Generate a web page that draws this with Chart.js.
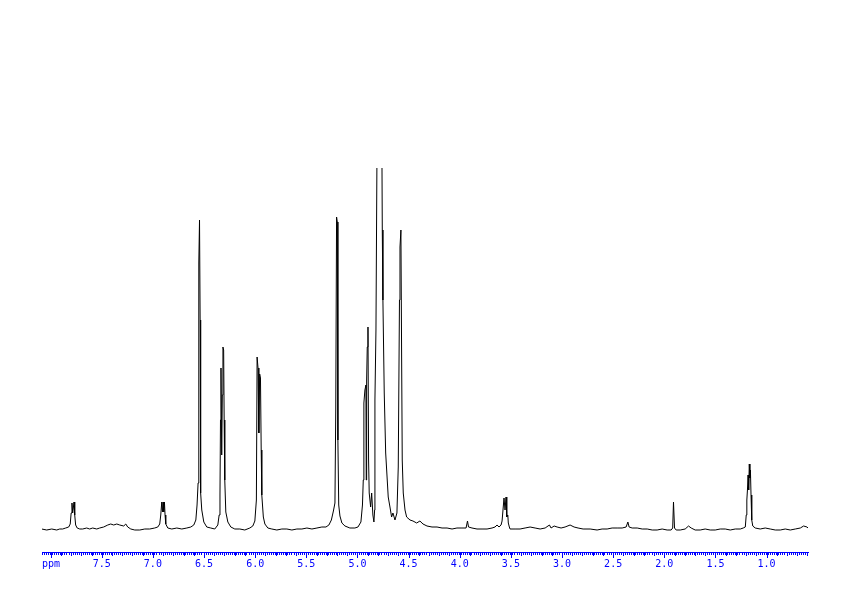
<!DOCTYPE html>
<html>
<head>
<meta charset="utf-8">
<title>1H NMR spectrum</title>
<script src="https://cdn.jsdelivr.net/npm/chart.js@4.4.1/dist/chart.umd.min.js"></script>
<style>
  html, body { margin: 0; padding: 0; background: #fff; }
  #wrap { width: 842px; height: 595px; }
</style>
</head>
<body>
<div id="wrap"><canvas id="spectrum" width="842" height="595"></canvas></div>
<script>
// chemical shift (ppm) of each traced point, left to right
const shiftPpm = [
  8.087, 8.038, 7.989, 7.940, 7.911, 7.882, 7.852, 7.823, 7.808, 7.799, 7.791, 7.784, 7.778, 7.771, 7.764, 7.755,
  7.740, 7.715, 7.686, 7.647, 7.618, 7.588, 7.549, 7.520, 7.481, 7.441, 7.412, 7.383, 7.353, 7.324, 7.285, 7.265,
  7.246, 7.216, 7.177, 7.128, 7.079, 7.031, 6.982, 6.952, 6.933, 6.923, 6.913, 6.906, 6.900, 6.894, 6.887, 6.881,
  6.874, 6.854, 6.815, 6.766, 6.717, 6.668, 6.629, 6.600, 6.580, 6.568, 6.558, 6.551, 6.544, 6.538, 6.533, 6.522,
  6.502, 6.473, 6.434, 6.395, 6.365, 6.352, 6.344, 6.339, 6.334, 6.327, 6.321, 6.315, 6.308, 6.303, 6.297, 6.287,
  6.267, 6.238, 6.199, 6.150, 6.101, 6.052, 6.023, 6.003, 5.988, 5.981, 5.972, 5.964, 5.956, 5.948, 5.941, 5.935,
  5.920, 5.905, 5.876, 5.837, 5.788, 5.739, 5.690, 5.641, 5.592, 5.543, 5.494, 5.445, 5.396, 5.348, 5.308, 5.279,
  5.255, 5.235, 5.220, 5.212, 5.204, 5.197, 5.191, 5.183, 5.171, 5.152, 5.122, 5.074, 5.025, 4.995, 4.966, 4.951,
  4.943, 4.937, 4.927, 4.917, 4.914, 4.910, 4.904, 4.897, 4.891, 4.885, 4.871, 4.861, 4.849, 4.839, 4.832, 4.829,
  4.819, 4.806, 4.785, 4.763, 4.757, 4.751, 4.738, 4.724, 4.699, 4.682, 4.666, 4.653, 4.633, 4.614, 4.601, 4.589,
  4.584, 4.575, 4.568, 4.562, 4.552, 4.535, 4.519, 4.486, 4.457, 4.421, 4.389, 4.359, 4.320, 4.271, 4.222, 4.173,
  4.124, 4.075, 4.027, 3.978, 3.938, 3.924, 3.914, 3.880, 3.831, 3.782, 3.733, 3.684, 3.655, 3.635, 3.616, 3.596,
  3.586, 3.567, 3.557, 3.547, 3.540, 3.530, 3.525, 3.515, 3.508, 3.459, 3.410, 3.361, 3.312, 3.263, 3.214, 3.165,
  3.123, 3.107, 3.077, 3.048, 3.009, 2.970, 2.921, 2.882, 2.843, 2.794, 2.725, 2.657, 2.608, 2.559, 2.510, 2.461,
  2.412, 2.373, 2.356, 2.344, 2.314, 2.265, 2.216, 2.167, 2.118, 2.070, 2.021, 1.972, 1.933, 1.918, 1.910, 1.900,
  1.884, 1.844, 1.796, 1.763, 1.737, 1.698, 1.649, 1.600, 1.551, 1.502, 1.453, 1.404, 1.355, 1.306, 1.257, 1.228,
  1.208, 1.199, 1.193, 1.187, 1.181, 1.175, 1.169, 1.163, 1.158, 1.152, 1.145, 1.135, 1.111, 1.062, 1.013, 0.964,
  0.915, 0.866, 0.817, 0.768, 0.719, 0.670, 0.638, 0.605, 0.595
];
// signal height at each point (arbitrary units, plot top = 384)
const intensity = [
  23, 22, 23, 22, 23, 23, 24, 25, 28, 39, 49, 39, 44, 50, 37, 27,
  24, 23, 23, 24, 23, 24, 23, 24, 25, 27, 28, 27, 28, 27, 26, 28,
  25, 23, 22, 22, 23, 23, 24, 25, 28, 37, 50, 40, 50, 40, 50, 37,
  28, 24, 23, 24, 23, 24, 25, 27, 32, 47, 69, 289, 332, 232, 59, 42,
  30, 25, 24, 23, 27, 37, 57, 132, 184, 97, 157, 205, 202, 132, 72, 40,
  30, 25, 23, 23, 22, 24, 26, 31, 52, 195, 184, 119, 178, 174, 102, 57,
  35, 28, 24, 23, 22, 23, 23, 22, 23, 23, 24, 23, 24, 25, 25, 27,
  32, 41, 49, 142, 335, 330, 112, 47, 36, 29, 26, 24, 24, 25, 30, 47,
  72, 149, 162, 167, 72, 172, 205, 225, 92, 59, 45, 59, 37, 30, 42, 152,
  222, 452, 412, 452, 322, 252, 159, 99, 55, 45, 35, 39, 32, 39, 85, 252,
  305, 322, 195, 92, 59, 42, 35, 32, 31, 29, 31, 28, 26, 25, 25, 24,
  24, 23, 24, 24, 24, 31, 25, 24, 23, 23, 23, 24, 25, 27, 25, 27,
  31, 54, 42, 55, 35, 37, 29, 25, 23, 23, 23, 24, 25, 24, 23, 24,
  27, 24, 26, 25, 24, 25, 27, 25, 24, 23, 23, 22, 23, 23, 24, 24,
  24, 25, 30, 25, 24, 24, 23, 23, 22, 22, 23, 22, 22, 24, 50, 24,
  22, 22, 23, 26, 24, 22, 22, 23, 22, 22, 23, 23, 22, 23, 23, 24,
  25, 37, 52, 62, 77, 62, 88, 74, 82, 57, 32, 26, 24, 23, 24, 23,
  22, 22, 23, 22, 23, 24, 26, 25, 24
];
// labelled ticks on the ppm axis
const axisLabels = [7.5, 7.0, 6.5, 6.0, 5.5, 5.0, 4.5, 4.0, 3.5, 3.0, 2.5, 2.0, 1.5, 1.0];
const PPM_LEFT = 8.084;
const PPM_RIGHT = 0.595;
const BLUE = "#0000ff";
const AXIS_FONT = { family: "DejaVu Sans Mono", size: 10 };

const points = shiftPpm.map((p, i) => ({ x: p, y: intensity[i] }));

// longer ticks every 0.1 / 0.5 ppm and the "ppm" caption
const axisDecor = {
  id: "axisDecor",
  afterDraw(chart) {
    const sx = chart.scales.x;
    const ctx = chart.ctx;
    const bottom = chart.chartArea.bottom;
    ctx.save();
    ctx.strokeStyle = BLUE;
    ctx.lineWidth = 1;
    for (let k = Math.ceil(PPM_RIGHT * 10); k <= Math.floor(PPM_LEFT * 10); k++) {
      const px = Math.round(sx.getPixelForValue(k / 10)) + 0.5;
      const len = k % 5 === 0 ? 6 : 4;
      ctx.beginPath();
      ctx.moveTo(px, bottom);
      ctx.lineTo(px, bottom + len);
      ctx.stroke();
    }
    ctx.fillStyle = BLUE;
    ctx.font = AXIS_FONT.size + "px " + AXIS_FONT.family;
    ctx.textAlign = "left";
    ctx.textBaseline = "middle";
    ctx.fillText("ppm", chart.chartArea.left, bottom + 12);
    ctx.restore();
  },
};

new Chart(document.getElementById("spectrum"), {
  type: "line",
  data: {
    datasets: [{
      data: points,
      borderColor: "#000",
      borderWidth: 1,
      pointRadius: 0,
      tension: 0,
      fill: false,
      clip: 0,
    }],
  },
  options: {
    responsive: false,
    animation: false,
    events: [],
    layout: { padding: { left: 42, right: 34, top: 168, bottom: 22 } },
    plugins: { legend: { display: false }, tooltip: { enabled: false } },
    scales: {
      x: {
        type: "linear",
        reverse: true,
        min: PPM_RIGHT,
        max: PPM_LEFT,
        border: { color: BLUE, width: 1 },
        grid: { drawOnChartArea: false, color: BLUE, tickColor: BLUE, tickLength: 3 },
        ticks: {
          stepSize: 0.02,
          autoSkip: false,
          includeBounds: false,
          maxRotation: 0,
          padding: 3,
          color: BLUE,
          font: AXIS_FONT,
          callback: (v) => {
            const hit = axisLabels.find((a) => Math.abs(a - v) < 1e-6);
            return hit === undefined ? "" : hit.toFixed(1);
          },
        },
      },
      y: { display: false, min: 0, max: 384 },
    },
  },
  plugins: [axisDecor],
});
</script>
</body>
</html>
